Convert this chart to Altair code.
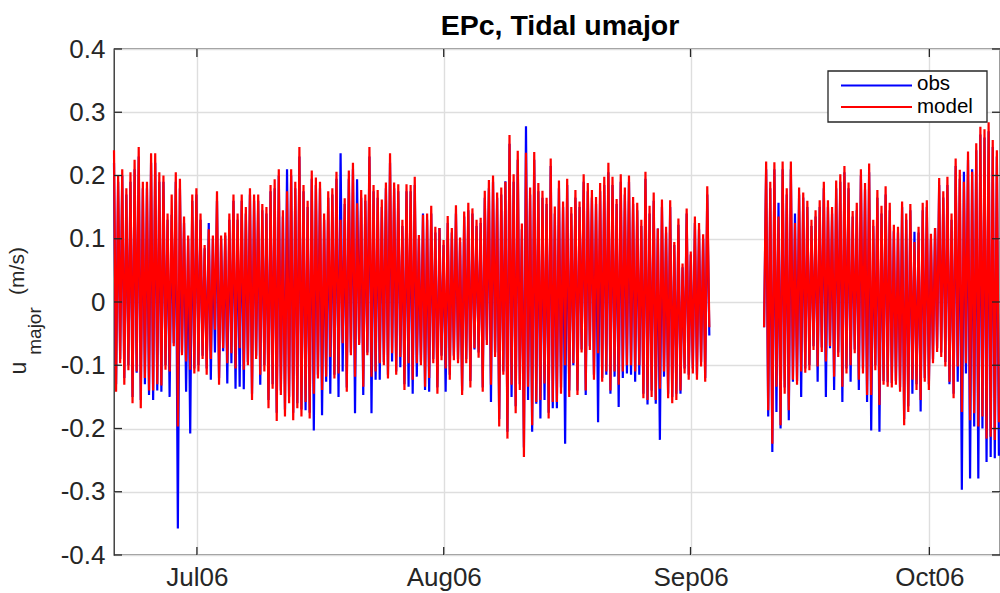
import altair as alt
import pandas as pd

# ---------------- text / categories ----------------
TITLE = "EPc, Tidal umajor"
series_names = ["obs", "model"]
series_colors = ["#0000ff", "#ff0000"]
x_tick_dates = ["2006-07-01T00:00:00", "2006-08-01T00:00:00",
                "2006-09-01T00:00:00", "2006-10-01T00:00:00"]
y_ticks = [-0.4, -0.3, -0.2, -0.1, 0.0, 0.1, 0.2, 0.3, 0.4]

# time base of the record (semidiurnal tide: one high and one low every 12.42 h)
half_period_hours = 6.21
seg1_first_high = "2006-06-20T14:00:00"
seg2_first_high = "2006-09-10T12:00:00"
seg2_start_value = {"obs": -0.04, "model": -0.04}

# ---------------- segment 1 (20 Jun - 3 Sep), per-cycle extremes ----------------
s1_model_hi = [
    0.24, 0.20, 0.21, 0.18, 0.205, 0.225, 0.245, 0.19, 0.19, 0.235,
    0.235, 0.205, 0.20, 0.14, 0.17, 0.205, 0.195, 0.135, 0.105, 0.17,
    0.18, 0.14, 0.09, 0.115, 0.105, 0.175, 0.105, 0.11, 0.14, 0.17,
    0.14, 0.17, 0.15, 0.18, 0.17, 0.17, 0.155, 0.15,
    0.185, 0.194, 0.21, 0.145, 0.175, 0.21, 0.19, 0.245, 0.185, 0.16,
    0.208, 0.197, 0.19, 0.14, 0.175, 0.18, 0.206, 0.13, 0.164, 0.208,
    0.22, 0.156, 0.177, 0.17, 0.245, 0.185, 0.177, 0.162, 0.189, 0.235,
    0.189, 0.186, 0.13, 0.186, 0.185, 0.198, 0.106,
    0.138, 0.14, 0.152, 0.119, 0.117, 0.098, 0.136, 0.117, 0.153, 0.102,
    0.143, 0.157, 0.148, 0.13, 0.133, 0.176, 0.193, 0.2, 0.173, 0.181,
    0.19, 0.264, 0.202, 0.239, 0.124, 0.236, 0.181, 0.237, 0.188, 0.176,
    0.165, 0.227, 0.151, 0.192, 0.159, 0.195,
    0.15, 0.177, 0.159, 0.202, 0.188, 0.177, 0.166, 0.188, 0.198, 0.22,
    0.198, 0.163, 0.202, 0.181, 0.2, 0.166, 0.157, 0.13, 0.206, 0.152,
    0.173, 0.116, 0.162, 0.119, 0.161, 0.095, 0.132, 0.061, 0.148, 0.08,
    0.135, 0.125, 0.107, 0.183,
]
s1_model_lo = [
    -0.142, -0.097, -0.131, -0.108, -0.16, -0.11, -0.168, -0.12, -0.14, -0.14,
    -0.13, -0.132, -0.107, -0.11, -0.07, -0.197, -0.084, -0.094, -0.107, -0.113,
    -0.11, -0.09, -0.115, -0.09, -0.044, -0.131, -0.073, -0.097, -0.081, -0.105,
    -0.073, -0.107, -0.1, -0.155, -0.09, -0.115, -0.11, -0.168,
    -0.137, -0.188, -0.147, -0.181, -0.16, -0.187, -0.168, -0.181, -0.158, -0.184,
    -0.145, -0.121, -0.139, -0.118, -0.087, -0.121, -0.113, -0.065, -0.142, -0.084,
    -0.118, -0.068, -0.134, -0.084, -0.118, -0.11, -0.097, -0.1, -0.121, -0.081,
    -0.115, -0.087, -0.139, -0.097, -0.123, -0.097,
    -0.1, -0.134, -0.12, -0.097, -0.145, -0.092, -0.105, -0.123, -0.092, -0.097,
    -0.147, -0.097, -0.135, -0.073, -0.088, -0.142, -0.068, -0.131, -0.087, -0.197,
    -0.115, -0.216, -0.131, -0.176, -0.139, -0.245, -0.134, -0.195, -0.158, -0.155,
    -0.129, -0.184, -0.158, -0.158, -0.145, -0.1, -0.15,
    -0.097, -0.147, -0.08, -0.14, -0.076, -0.123, -0.081, -0.126, -0.11, -0.14,
    -0.11, -0.131, -0.11, -0.1, -0.1, -0.11, -0.1, -0.152, -0.155, -0.15,
    -0.155, -0.137, -0.11, -0.152, -0.16, -0.155, -0.14, -0.113, -0.123, -0.113,
    -0.123, -0.102, -0.126, -0.04,
]
s1_obs_hi = [
    0.22, 0.19, 0.20, 0.17, 0.19, 0.21, 0.23, 0.18, 0.18, 0.22,
    0.22, 0.19, 0.19, 0.13, 0.138, 0.19, 0.18, 0.125, 0.10, 0.16,
    0.17, 0.13, 0.085, 0.125, 0.10, 0.16, 0.10, 0.105, 0.13, 0.16,
    0.13, 0.16, 0.14, 0.17, 0.16, 0.16, 0.145, 0.14,
    0.175, 0.18, 0.20, 0.135, 0.21, 0.20, 0.18, 0.23, 0.175, 0.15,
    0.195, 0.185, 0.18, 0.13, 0.165, 0.17, 0.195, 0.235, 0.155, 0.195,
    0.21, 0.194, 0.165, 0.16, 0.23, 0.175, 0.165, 0.15, 0.18, 0.22,
    0.18, 0.175, 0.12, 0.175, 0.175, 0.185, 0.10,
    0.14, 0.13, 0.14, 0.11, 0.117, 0.09, 0.125, 0.11, 0.14, 0.095,
    0.135, 0.145, 0.14, 0.12, 0.125, 0.165, 0.18, 0.19, 0.165, 0.17,
    0.191, 0.25, 0.19, 0.225, 0.115, 0.278, 0.17, 0.225, 0.175, 0.165,
    0.155, 0.215, 0.14, 0.18, 0.15, 0.185,
    0.14, 0.165, 0.15, 0.19, 0.175, 0.165, 0.155, 0.175, 0.185, 0.205,
    0.185, 0.155, 0.19, 0.17, 0.19, 0.155, 0.145, 0.12, 0.195, 0.14,
    0.16, 0.116, 0.15, 0.11, 0.15, 0.09, 0.122, 0.055, 0.14, 0.075,
    0.125, 0.115, 0.10, 0.17,
]
s1_obs_lo = [
    -0.13, -0.09, -0.12, -0.10, -0.15, -0.112, -0.155, -0.13, -0.147, -0.155,
    -0.14, -0.142, -0.10, -0.15, -0.065, -0.358, -0.08, -0.142, -0.208, -0.105,
    -0.10, -0.085, -0.105, -0.123, -0.08, -0.12, -0.078, -0.129, -0.097, -0.137,
    -0.134, -0.138, -0.095, -0.145, -0.085, -0.131, -0.10, -0.155,
    -0.13, -0.175, -0.14, -0.17, -0.15, -0.175, -0.16, -0.17, -0.171, -0.175,
    -0.203, -0.115, -0.179, -0.126, -0.145, -0.115, -0.15, -0.11, -0.135, -0.08,
    -0.176, -0.065, -0.147, -0.08, -0.176, -0.123, -0.123, -0.095, -0.115, -0.094,
    -0.11, -0.103, -0.13, -0.134, -0.145, -0.118,
    -0.095, -0.139, -0.142, -0.09, -0.135, -0.085, -0.142, -0.115, -0.085, -0.09,
    -0.14, -0.09, -0.125, -0.075, -0.08, -0.135, -0.06, -0.158, -0.08, -0.185,
    -0.11, -0.205, -0.15, -0.165, -0.13, -0.23, -0.155, -0.205, -0.161, -0.184,
    -0.155, -0.175, -0.168, -0.168, -0.135, -0.224, -0.14,
    -0.1, -0.14, -0.075, -0.147, -0.07, -0.115, -0.19, -0.12, -0.115, -0.145,
    -0.118, -0.166, -0.12, -0.113, -0.115, -0.126, -0.115, -0.145, -0.162, -0.14,
    -0.161, -0.218, -0.118, -0.145, -0.15, -0.145, -0.145, -0.105, -0.115, -0.105,
    -0.115, -0.095, -0.12, -0.053,
]

# ---------------- segment 2 (10 Sep - 9 Oct), per-cycle extremes ----------------
s2_model_hi = [
    0.222, 0.19, 0.221, 0.135, 0.222, 0.18, 0.222, 0.125, 0.181, 0.173,
    0.16, 0.13, 0.145, 0.161, 0.19, 0.161, 0.15, 0.192, 0.202, 0.215,
    0.189, 0.144, 0.157, 0.21, 0.188, 0.219, 0.13, 0.177,
    0.152, 0.183, 0.157, 0.122, 0.119, 0.159, 0.14, 0.155, 0.095, 0.119,
    0.157, 0.161, 0.108, 0.117, 0.196, 0.175, 0.198, 0.14, 0.227, 0.209,
    0.19, 0.238, 0.206, 0.251, 0.277, 0.273, 0.284, 0.256, 0.24,
]
s2_model_lo = [
    -0.171, -0.224, -0.134, -0.195, -0.145, -0.171, -0.123, -0.131, -0.11, -0.112,
    -0.108, -0.076, -0.102, -0.079, -0.094, -0.07, -0.118, -0.087, -0.134, -0.113,
    -0.1, -0.081, -0.123, -0.113, -0.147,
    -0.147, -0.108, -0.163, -0.131, -0.134, -0.135, -0.131, -0.142, -0.195, -0.174,
    -0.123, -0.139, -0.155, -0.126, -0.139, -0.097, -0.079, -0.087, -0.102, -0.126,
    -0.152, -0.102, -0.174, -0.097, -0.187, -0.176, -0.197, -0.181, -0.216, -0.213,
    -0.218, -0.19,
]
s2_obs_hi = [
    0.21, 0.18, 0.21, 0.157, 0.21, 0.17, 0.21, 0.14, 0.17, 0.165,
    0.15, 0.12, 0.135, 0.15, 0.18, 0.15, 0.14, 0.18, 0.19, 0.205,
    0.18, 0.135, 0.145, 0.2, 0.178, 0.205, 0.12, 0.165,
    0.14, 0.17, 0.145, 0.112, 0.11, 0.15, 0.13, 0.145, 0.111, 0.11,
    0.145, 0.15, 0.1, 0.117, 0.185, 0.165, 0.185, 0.13, 0.215, 0.195,
    0.206, 0.225, 0.21, 0.24, 0.265, 0.26, 0.27, 0.245, 0.23,
]
s2_obs_lo = [
    -0.181, -0.237, -0.174, -0.2, -0.135, -0.187, -0.126, -0.125, -0.15, -0.105,
    -0.1, -0.07, -0.126, -0.072, -0.15, -0.073, -0.139, -0.08, -0.158, -0.105,
    -0.126, -0.075, -0.139, -0.105, -0.158,
    -0.203, -0.1, -0.205, -0.125, -0.127, -0.128, -0.125, -0.135, -0.185, -0.165,
    -0.145, -0.13, -0.173, -0.12, -0.13, -0.09, -0.073, -0.08, -0.095, -0.13,
    -0.145, -0.126, -0.297, -0.113, -0.279, -0.197, -0.279, -0.2, -0.253, -0.245,
    -0.247, -0.243,
]

# ---------------- build table ----------------
step = pd.Timedelta(hours=half_period_hours)


def segment_rows(series, seg, first_high, highs, lows, start_value=None):
    rows = []
    t = pd.Timestamp(first_high)
    if start_value is not None:
        rows.append({"t": (t - step).strftime("%Y-%m-%dT%H:%M:%S"), "v": start_value,
                     "series": series, "seg": seg})
    for h, l in zip(highs, lows):
        rows.append({"t": t.strftime("%Y-%m-%dT%H:%M:%S"), "v": h, "series": series, "seg": seg})
        t = t + step
        rows.append({"t": t.strftime("%Y-%m-%dT%H:%M:%S"), "v": l, "series": series, "seg": seg})
        t = t + step
    return rows


rows = []
rows += segment_rows("obs", 1, seg1_first_high, s1_obs_hi, s1_obs_lo)
rows += segment_rows("obs", 2, seg2_first_high, s2_obs_hi, s2_obs_lo, seg2_start_value["obs"])
rows += segment_rows("model", 1, seg1_first_high, s1_model_hi, s1_model_lo)
rows += segment_rows("model", 2, seg2_first_high, s2_model_hi, s2_model_lo, seg2_start_value["model"])
df = pd.DataFrame(rows)

# ---------------- layout ----------------
W, H = 886, 506
FONT = "Liberation Sans"
INK = "#262626"
TICK = 8
LW = 2.2

x_scale = alt.Scale(domain=[alt.DateTime(year=2006, month=6, date=20, hours=14),
                            alt.DateTime(year=2006, month=10, date=9, hours=21)])
y_scale = alt.Scale(domain=[-0.4, 0.4], nice=False, zero=False)

x_vals = [alt.DateTime(year=int(d[0:4]), month=int(d[5:7]), date=int(d[8:10])) for d in x_tick_dates]

x_axis = alt.Axis(values=x_vals, labelExpr="timeFormat(datum.value, '%b%y')",
                  title=None, grid=True, gridColor="#dedede", gridWidth=1.4,
                  domain=False, ticks=False, tickSize=0, labelPadding=9,
                  labelFont=FONT, labelFontSize=26, labelColor=INK)
y_axis = alt.Axis(values=y_ticks,
                  labelExpr="abs(datum.value) < 1e-9 ? '0' : replace(format(datum.value, '.1f'), '\u2212', '-')",
                  title=None, grid=True, gridColor="#dedede", gridWidth=1.4,
                  domain=False, ticks=False, tickSize=0, labelPadding=9,
                  labelFont=FONT, labelFontSize=26, labelColor=INK)

X = alt.X("t:T", scale=x_scale, axis=x_axis)
Y = alt.Y("v:Q", scale=y_scale, axis=y_axis)

base = alt.Chart(df).encode(x=X, y=Y, detail="seg:N")
obs_line = base.transform_filter(alt.datum.series == series_names[0]).mark_line(
    color=series_colors[0], strokeWidth=LW)
model_line = base.transform_filter(alt.datum.series == series_names[1]).mark_line(
    color=series_colors[1], strokeWidth=LW)

xt_df = pd.DataFrame({"t": x_tick_dates})
yt_df = pd.DataFrame({"v": y_ticks})
tick_bottom = alt.Chart(xt_df).mark_rule(color=INK, strokeWidth=1.3).encode(
    x=X, y=alt.value(H), y2=alt.value(H - TICK))
tick_top = alt.Chart(xt_df).mark_rule(color=INK, strokeWidth=1.3).encode(
    x=X, y=alt.value(0), y2=alt.value(TICK))
tick_left = alt.Chart(yt_df).mark_rule(color=INK, strokeWidth=1.3).encode(
    y=Y, x=alt.value(0), x2=alt.value(TICK))
tick_right = alt.Chart(yt_df).mark_rule(color=INK, strokeWidth=1.3).encode(
    y=Y, x=alt.value(W - TICK), x2=alt.value(W))

one = pd.DataFrame({"k": [0]})
title_mark = alt.Chart(one).mark_text(
    text=TITLE, font=FONT, fontSize=28.5, fontWeight="bold", color="#000000",
    align="center", baseline="alphabetic").encode(x=alt.value(446), y=alt.value(-14))

ylab_u = alt.Chart(one).mark_text(
    text="u", font=FONT, fontSize=23, color=INK, angle=270,
    align="center", baseline="alphabetic").encode(x=alt.value(-88), y=alt.value(319))
ylab_sub = alt.Chart(one).mark_text(
    text="major", font=FONT, fontSize=19, color=INK, angle=270,
    align="center", baseline="alphabetic").encode(x=alt.value(-73), y=alt.value(282))
ylab_unit = alt.Chart(one).mark_text(
    text="(m/s)", font=FONT, fontSize=21, color=INK, angle=270,
    align="center", baseline="alphabetic").encode(x=alt.value(-90), y=alt.value(222))

# legend (drawn box, as in the original figure)
leg_box = alt.Chart(one).mark_rect(fill="white", stroke=INK, strokeWidth=1.3).encode(
    x=alt.value(714), x2=alt.value(873), y=alt.value(22), y2=alt.value(73))
leg_obs_line = alt.Chart(one).mark_rule(color=series_colors[0], strokeWidth=LW).encode(
    x=alt.value(727), x2=alt.value(798), y=alt.value(36.5))
leg_model_line = alt.Chart(one).mark_rule(color=series_colors[1], strokeWidth=LW).encode(
    x=alt.value(727), x2=alt.value(798), y=alt.value(58))
leg_obs_text = alt.Chart(one).mark_text(
    text=series_names[0], font=FONT, fontSize=20.5, color="#000000",
    align="left", baseline="middle").encode(x=alt.value(803), y=alt.value(35))
leg_model_text = alt.Chart(one).mark_text(
    text=series_names[1], font=FONT, fontSize=20.5, color="#000000",
    align="left", baseline="middle").encode(x=alt.value(803), y=alt.value(58))

chart = alt.layer(
    obs_line, model_line,
    tick_bottom, tick_top, tick_left, tick_right,
    title_mark, ylab_u, ylab_sub, ylab_unit,
    leg_box, leg_obs_line, leg_model_line, leg_obs_text, leg_model_text,
).properties(
    width=W, height=H,
    autosize=alt.AutoSizeParams(type="none"),
    padding={"left": 114, "top": 49, "right": 0, "bottom": 38},
    background="white",
).configure_view(stroke=INK, strokeWidth=1.3)

chart.save("out.html", embed_options={"renderer": "svg", "actions": False})
